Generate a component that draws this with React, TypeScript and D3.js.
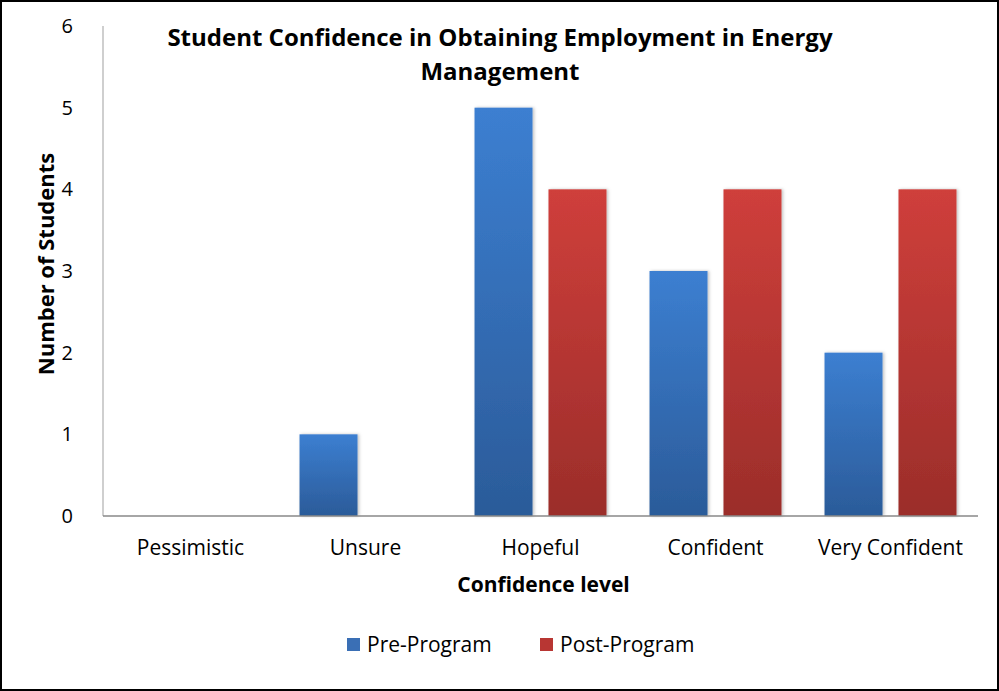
import React from 'react';
import * as d3 from 'd3';

const categories = ['Pessimistic', 'Unsure', 'Hopeful', 'Confident', 'Very Confident'];
const preProgram = [0, 1, 5, 3, 2];
const postProgram = [0, 0, 4, 4, 4];
const seriesNames = ['Pre-Program', 'Post-Program'];
const yTicks = [0, 1, 2, 3, 4, 5, 6];

const W = 999;
const H = 691;
const FONT = '"Open Sans", "Noto Sans", sans-serif';

const App: React.FC = () => {
  const svgRef = React.useRef<SVGSVGElement>(null);

  React.useEffect(() => {
    if (!svgRef.current) return;
    d3.select(svgRef.current).selectAll('*').remove();
    const svg = d3.select(svgRef.current);

    const margin = { top: 26, right: 21, bottom: 175, left: 103 };
    const chartWidth = W - margin.left - margin.right;
    const chartHeight = H - margin.top - margin.bottom;

    // Gradients
    const defs = svg.append('defs');
    const grads = [
      { id: 'gBlue', top: '#3c7fd1', bottom: '#2b5b99' },
      { id: 'gRed', top: '#cf3f3b', bottom: '#9b2d2a' },
    ];
    grads.forEach(g => {
      const lg = defs.append('linearGradient').attr('id', g.id)
        .attr('x1', 0).attr('y1', 0).attr('x2', 0).attr('y2', 1);
      lg.append('stop').attr('offset', '0%').attr('stop-color', g.top);
      lg.append('stop').attr('offset', '100%').attr('stop-color', g.bottom);
    });
    const shadow = defs.append('filter').attr('id', 'shadow')
      .attr('x', '-10%').attr('y', '-10%').attr('width', '130%').attr('height', '120%');
    shadow.append('feDropShadow').attr('dx', 1.5).attr('dy', 0).attr('stdDeviation', 1.5)
      .attr('flood-color', '#000').attr('flood-opacity', 0.25);

    // Background and border
    svg.append('rect').attr('x', 1).attr('y', 1).attr('width', W - 2).attr('height', H - 2)
      .attr('fill', '#fff').attr('stroke', '#000').attr('stroke-width', 2);

    const g = svg.append('g').attr('transform', `translate(${margin.left},${margin.top})`);

    const x0 = d3.scaleBand().domain(categories).range([0, chartWidth]).paddingInner(0.246).paddingOuter(0.123);
    const x1 = d3.scaleBand().domain(seriesNames).range([0, x0.bandwidth()]).paddingInner(0.216).paddingOuter(0);
    const y = d3.scaleLinear().domain([0, 6]).range([chartHeight, 0]);
    const fills = ['url(#gBlue)', 'url(#gRed)'];
    const swatch = ['#3a6fb5', '#b83633'];

    // Y axis line
    g.append('line').attr('x1', 0).attr('x2', 0).attr('y1', 0).attr('y2', chartHeight)
      .attr('stroke', '#bfbfbf').attr('stroke-width', 1.5);

    // Y tick labels
    g.selectAll('.ytick').data(yTicks).enter().append('text')
      .attr('x', -30).attr('y', d => y(d)).attr('dy', '0.35em')
      .attr('text-anchor', 'end').attr('font-family', FONT).attr('font-size', 20).attr('fill', '#000')
      .text(d => d);

    // Bars
    const groups = g.selectAll('.cat').data(categories).enter().append('g')
      .attr('transform', d => `translate(${x0(d) || 0},0)`);
    groups.each(function (c, i) {
      const grp = d3.select(this);
      [preProgram[i], postProgram[i]].forEach((v, s) => {
        if (v <= 0) return;
        grp.append('rect')
          .attr('x', x1(seriesNames[s]) || 0)
          .attr('y', y(v))
          .attr('width', x1.bandwidth())
          .attr('height', chartHeight - y(v))
          .attr('fill', fills[s])
          .attr('filter', 'url(#shadow)');
      });
    });

    // X axis line
    g.append('line').attr('x1', 0).attr('x2', chartWidth).attr('y1', chartHeight).attr('y2', chartHeight)
      .attr('stroke', '#888').attr('stroke-width', 1.5);

    // Category labels
    g.selectAll('.xlab').data(categories).enter().append('text')
      .attr('x', d => (x0(d) || 0) + x0.bandwidth() / 2)
      .attr('y', chartHeight + 32)
      .attr('dy', '0.35em')
      .attr('text-anchor', 'middle').attr('font-family', FONT).attr('font-size', 21).attr('fill', '#000')
      .text(d => d);

    // X title
    g.append('text').attr('x', chartWidth / 2 + 3).attr('y', chartHeight + 69).attr('dy', '0.35em')
      .attr('text-anchor', 'middle').attr('font-family', FONT).attr('font-size', 21).attr('font-weight', 'bold')
      .text('Confidence level');

    // Y title
    svg.append('text').attr('transform', `translate(46,${264}) rotate(-90)`).attr('dy', '0.35em')
      .attr('text-anchor', 'middle').attr('font-family', FONT).attr('font-size', 22).attr('font-weight', 'bold')
      .text('Number of Students');

    // Title
    const title = svg.append('text').attr('text-anchor', 'middle').attr('font-family', FONT)
      .attr('font-size', 24).attr('font-weight', 'bold').attr('fill', '#000');
    title.append('tspan').attr('x', 500).attr('y', 46).text('Student Confidence in Obtaining Employment in Energy');
    title.append('tspan').attr('x', 500).attr('y', 80).text('Management');

    // Legend
    const legendX = [347, 540];
    const legend = svg.selectAll('.leg').data(seriesNames).enter().append('g')
      .attr('transform', (d, i) => `translate(${legendX[i]},645)`);
    legend.append('rect').attr('x', 0).attr('y', -7).attr('width', 13).attr('height', 13)
      .attr('fill', (d, i) => swatch[i]);
    legend.append('text').attr('x', 20).attr('y', 0).attr('dy', '0.35em')
      .attr('font-family', FONT).attr('font-size', 21).attr('fill', '#000')
      .text(d => d);
  }, []);

  return (
    <svg ref={svgRef} width={W} height={H} viewBox={`0 0 ${W} ${H}`}
      style={{ position: 'absolute', left: 0, top: 0, display: 'block' }} />
  );
};

export default App;
